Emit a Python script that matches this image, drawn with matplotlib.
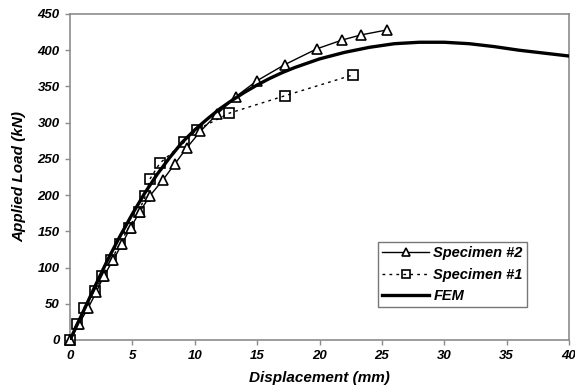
import matplotlib
matplotlib.use("Agg")
import matplotlib.pyplot as plt

plt.rcParams['font.family'] = ['Liberation Sans', 'DejaVu Sans']

# Specimen #2 (triangles)
spec2_x = [0, 0.7, 1.45, 2.1, 2.7, 3.45, 4.15, 4.85, 5.6, 6.4, 7.45, 8.4, 9.35,
           10.45, 11.8, 13.3, 15.0, 17.2, 19.8, 21.8, 23.3, 25.4]
spec2_y = [0, 22, 44, 66, 88, 110, 132, 155, 177, 199, 221, 243, 265,
           288, 312, 336, 358, 380, 402, 414, 421, 428]

# Specimen #1 (squares)
spec1_x = [0, 0.6, 1.1, 2.0, 2.6, 3.3, 4.0, 4.7, 5.5, 6.05, 6.4, 7.2, 9.15,
           10.15, 12.75, 17.2, 22.7]
spec1_y = [0, 22, 44, 67, 88, 110, 133, 155, 177, 199, 222, 244, 273,
           290, 313, 337, 366]

# FEM
fem_x = [0, 1, 2, 3, 4, 5, 6, 7, 8, 9, 10, 11, 12, 13, 14, 15, 16, 17, 18,
         20, 22, 24, 26, 28, 30, 32, 34, 36, 38, 40]
fem_y = [0, 37, 74, 110, 143, 174, 203, 229, 252, 273, 290, 305, 319, 331,
         342, 352, 361, 369, 376, 388, 397, 404, 409, 411, 411, 409, 405,
         400, 396, 392]

x_ticks = [0, 5, 10, 15, 20, 25, 30, 35, 40]
y_ticks = [0, 50, 100, 150, 200, 250, 300, 350, 400, 450]

fig = plt.figure(figsize=(5.75, 3.91), dpi=100)
ax = fig.add_axes([70/575, 1 - 340/391, (569-70)/575, (340-14)/391])

ax.plot(spec2_x, spec2_y, color='black', lw=1.0, marker='^', ms=6.5,
        mfc='white', mec='black', mew=1.2, label='Specimen #2', clip_on=False, zorder=4)
ax.plot(spec1_x, spec1_y, color='black', lw=1.0, linestyle=(0, (2, 3)), marker='s', ms=6.5,
        mfc='none', mec='black', mew=1.2, label='Specimen #1', clip_on=False, zorder=3)
ax.plot(fem_x, fem_y, color='black', lw=2.4, label='FEM', zorder=5)

ax.set_xlim(0, 40)
ax.set_ylim(0, 450)
ax.set_xticks(x_ticks)
ax.set_yticks(y_ticks)

fp = dict(fontweight='bold', fontstyle='italic', fontsize=9.5)
ax.set_xticklabels([str(t) for t in x_ticks], **fp)
ax.set_yticklabels([str(t) for t in y_ticks], **fp)

for s in ax.spines.values():
    s.set_color('#8c8c8c')
    s.set_linewidth(1.2)
ax.tick_params(axis='both', direction='out', length=3.5, width=1, color='#8c8c8c', pad=4)

ax.set_xlabel('Displacement (mm)', fontweight='bold', fontstyle='italic', fontsize=11, labelpad=6)
ax.set_ylabel('Applied Load (kN)', fontweight='bold', fontstyle='italic', fontsize=11, labelpad=8)

leg = ax.legend(loc='upper left', bbox_to_anchor=((378-70)/499, (340-242)/326),
                frameon=True, fancybox=False, handlelength=3.2, borderaxespad=0,
                prop=dict(weight='bold', style='italic', size=10.5), labelspacing=0.5,
                handletextpad=0.3, borderpad=0.3, markerscale=0.85)
leg.get_frame().set_edgecolor('#555555')
leg.get_frame().set_linewidth(1.0)

fig.savefig('out.png', dpi=100)
